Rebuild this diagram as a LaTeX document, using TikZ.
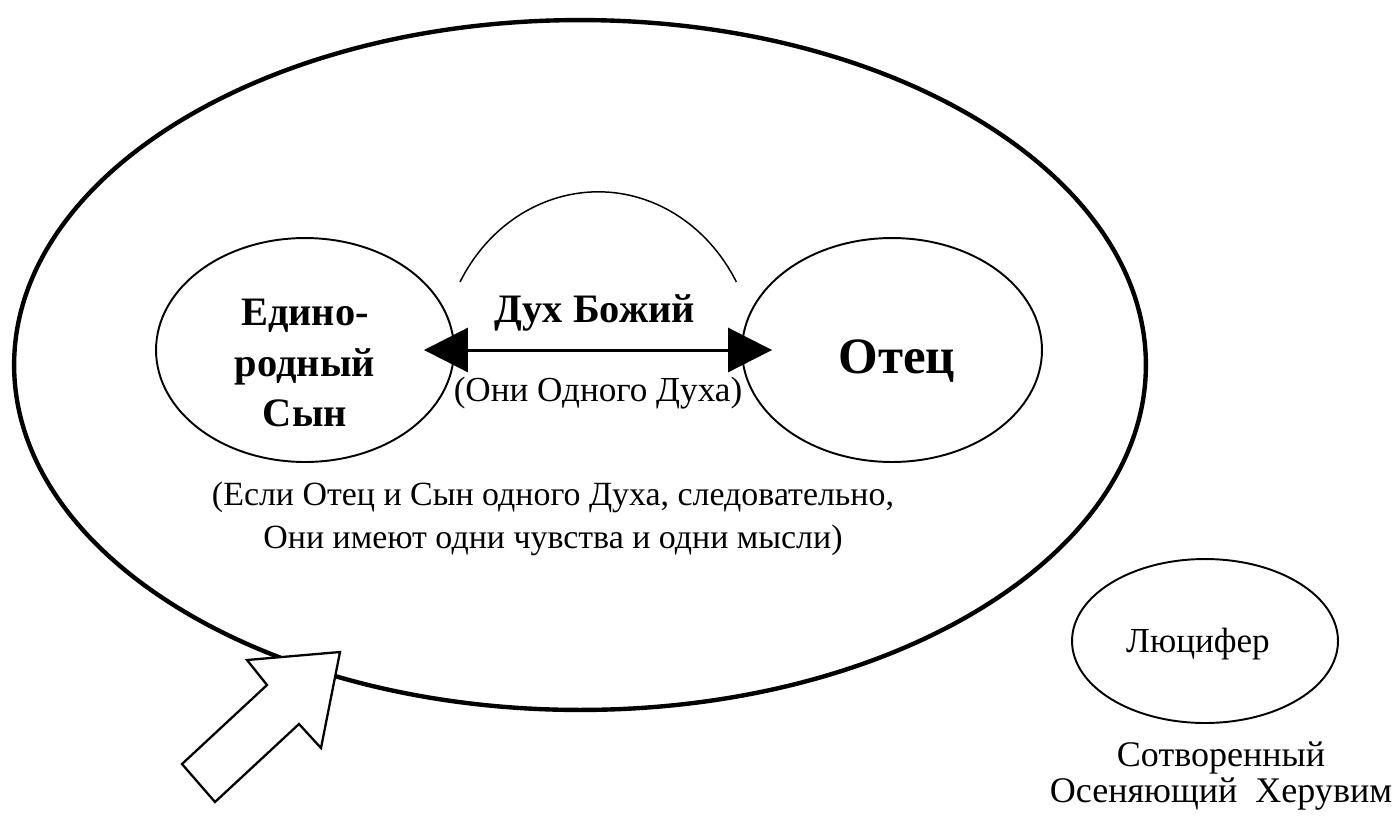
\documentclass[tikz,border=0pt]{standalone}
\usepackage{fontspec}
\setmainfont{Liberation Serif}
\usetikzlibrary{shapes.geometric,arrows.meta}

\tikzset{
  person/.style={ellipse, draw, line width=1.1pt, inner sep=0pt},
  bigname/.style={font=\bfseries\fontsize{23}{29}\selectfont, align=center},
  note/.style={font=\fontsize{20}{24.5}\selectfont, align=center},
  spirit/.style={line width=1.7pt, {Triangle[length=0.88cm,width=0.88cm]}-{Triangle[length=0.88cm,width=0.88cm]}},
}

\begin{document}
\begin{tikzpicture}[x=0.02cm, y=0.02cm]
  \useasboundingbox (0,0) rectangle (1395,-819);
  % --- большой эллипс ---
  \node[ellipse, draw, line width=2.5pt, minimum width=22.64cm, minimum height=13.8cm] (heaven) at (580,-365) {};
  % --- Сын, Отец, Люцифер ---
  \node[person, minimum width=5.96cm, minimum height=4.48cm] (son) at (305,-350) {};
  \node[person, minimum width=6cm, minimum height=4.48cm] (father) at (892,-350) {};
  \node[person, minimum width=5.32cm, minimum height=3.28cm] (lucifer) at (1205,-641) {};
  % --- дуга над стрелкой ---
  \draw[line width=0.85pt] (460,-282) arc[start angle=151, end angle=29, x radius=158, y radius=175];
  % --- Дух Божий ---
  \draw[spirit, shorten <=-0.62cm, shorten >=-0.62cm] (son.east) -- (father.west);
  \node[bigname, anchor=base] (spiritname) at (595,-322) {Дух Божий};
  \node[note, anchor=base] (onespirit) at (598,-401) {(Они Одного Духа)};
  % --- подписи ---
  \node[bigname] (sonname) at (305,-363) {Едино-\\родный\\Сын};
  \node[bigname, font=\bfseries\fontsize{29}{35}\selectfont, anchor=base] (fathername) at (897,-373) {Отец};
  \node[note, font=\fontsize{19.3}{24.5}\selectfont] (consequence) at (553,-519) {(Если Отец и Сын одного Духа, следовательно,\\Они имеют одни чувства и одни мысли)};
  \node[note, anchor=base] (lucifername) at (1198,-652) {Люцифер};
  \node[note, font=\fontsize{20.5}{20}\selectfont] (cherub) at (1221,-776) {Сотворенный\\Осеняющий~ Херувим};
  % --- широкая стрелка ---
  \draw[line width=1.3pt, fill=white] (340,-652) -- (247,-660) -- (267,-685) -- (182,-764)
        -- (215,-802) -- (299,-724) -- (321,-748) -- cycle;
\end{tikzpicture}
\end{document}
